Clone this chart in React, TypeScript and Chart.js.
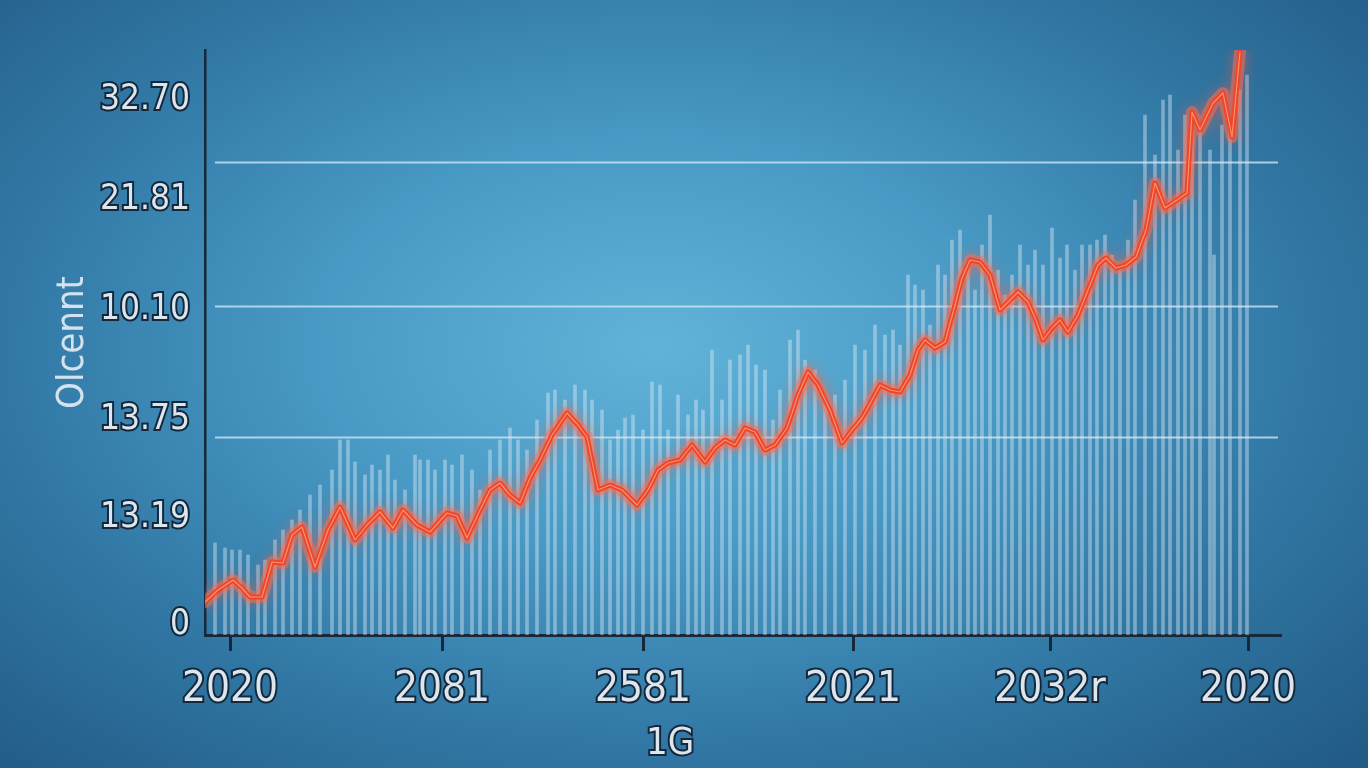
import React, { useEffect, useRef } from "react";
import { Chart, registerables } from "chart.js";

Chart.register(...registerables);

// red trend line
const lineX = [0, 2.6, 5.6, 7.4, 9, 11.4, 13.4, 15.6, 17.4, 19.4, 22, 24.6, 27, 30, 32.4, 35, 37.6, 39.6, 42.4, 45, 48.4, 50.4, 52.4, 55, 57, 59, 61, 63, 65, 67, 69.4, 72.4, 74.6, 76.4, 78.6, 81, 83.4, 86.4, 88.6, 90.6, 92.6, 95, 97.4, 100, 102, 104, 106, 108, 110, 112, 114, 116.4, 118.6, 120.6, 122.6, 125, 127.4, 129.4, 131.4, 133.4, 135, 137, 139, 141, 142.6, 144, 146, 148, 150, 151.4, 153, 155, 157, 159, 161, 162.6, 164.6, 166.2, 167.6, 169.4, 171, 172.6, 174.6, 176.6, 178.6, 180.2, 182.2, 184.2, 186.2, 188.2, 190, 192, 194.4, 196.4, 197.4, 199, 201.6, 203.6, 205.4, 207];
const lineY = [3.3, 4.5, 5.5, 4.7, 3.8, 3.8, 7.3, 7.2, 10.0, 10.8, 6.8, 10.5, 12.8, 9.5, 11.0, 12.3, 10.7, 12.5, 11.0, 10.3, 12.2, 11.9, 9.7, 12.5, 14.5, 15.2, 14.0, 13.2, 15.7, 17.5, 20.0, 22.2, 21.0, 19.8, 14.5, 15.0, 14.5, 13.0, 14.5, 16.5, 17.2, 17.5, 19.0, 17.3, 18.7, 19.5, 19.0, 20.7, 20.3, 18.5, 19.0, 20.7, 24.0, 26.3, 25.0, 22.5, 19.2, 20.5, 21.7, 23.5, 25.0, 24.5, 24.3, 26.0, 28.5, 29.5, 28.7, 29.3, 33.0, 35.7, 37.5, 37.3, 36.0, 32.5, 33.5, 34.3, 33.3, 31.5, 29.5, 30.7, 31.5, 30.3, 32.0, 34.5, 37.0, 37.7, 36.7, 37.0, 37.8, 40.5, 45.2, 42.7, 43.5, 44.2, 52.3, 50.5, 53.2, 54.2, 49.8, 58.3];

// pale bars
const barX = [2, 4, 5.4, 7, 8.6, 10.6, 12, 14, 15.6, 17.4, 19, 21, 23, 25.4, 27, 28.6, 30, 32, 33.4, 35, 36.6, 38, 40, 42, 43, 44.6, 46, 48, 49.4, 51.4, 53.4, 55, 57, 59, 61, 62.6, 64.4, 66.4, 68.6, 70, 72, 74, 76, 77.4, 79.4, 81, 82.6, 84, 85.6, 87.6, 89.4, 91, 92.6, 94.6, 96.6, 98.2, 99.6, 101.4, 103.4, 105, 107, 108.6, 110.2, 112, 113.6, 115, 117, 118.6, 120, 122, 124, 126, 128, 130, 132, 134, 136, 137.6, 139, 140.6, 142, 143.6, 145, 146.6, 148, 149.4, 151, 152.6, 154, 155.4, 157, 158.6, 160, 161.4, 163, 164.6, 166, 167.6, 169.4, 171, 172.4, 174, 175.4, 177, 178.4, 180, 181.4, 183, 184.6, 186, 188, 190, 191.6, 193, 194.6, 196, 197.4, 199, 201, 201.8, 203.4, 205, 207, 208.4];
const barY = [9.2, 8.7, 8.5, 8.5, 8.0, 7.0, 7.5, 9.5, 10.5, 11.5, 12.5, 14.0, 15.0, 16.5, 19.5, 19.5, 17.3, 16.0, 17.0, 16.5, 18.0, 15.5, 14.5, 18.0, 17.5, 17.5, 16.5, 17.5, 17.0, 18.0, 16.5, 14.5, 18.5, 19.5, 20.7, 19.5, 18.5, 21.5, 24.2, 24.5, 23.5, 25.0, 24.5, 23.5, 22.5, 19.5, 20.5, 21.7, 22.0, 20.5, 25.3, 25.0, 20.5, 24.0, 22.0, 23.5, 22.5, 28.5, 23.5, 27.5, 28.0, 29.0, 27.0, 26.5, 21.5, 24.5, 29.5, 30.5, 27.5, 26.5, 23.5, 24.0, 25.5, 29.0, 28.5, 31.0, 30.0, 30.5, 29.0, 36.0, 35.0, 34.5, 31.0, 37.0, 36.0, 39.5, 40.5, 37.0, 34.5, 39.0, 42.0, 36.5, 34.0, 36.0, 39.0, 37.0, 38.5, 37.0, 40.7, 37.7, 39.0, 36.5, 39.0, 39.0, 39.5, 40.0, 38.0, 36.5, 39.5, 43.5, 52.0, 48.0, 53.5, 54.0, 48.5, 52.0, 50.5, 51.0, 48.5, 38.0, 51.0, 51.0, 54.5, 56.0];

const yTickValues = [1.0, 11.7, 21.5, 32.5, 43.5, 53.5];
const yTickLabels = ["0", "13.19", "13.75", "10.10", "21.81", "32.70"];
const gridValues = [19.8, 32.9, 47.3];
const xTickValues = [5, 47.4, 87.6, 129.6, 169, 208.6];
const xTickLabels = ["2020", "2081", "2581", "2021", "2032r", "2020"];
const yTitle = "Olcennt";
const xTitle = "1G";
const xTitlePos = 93;

const FONT = '"DejaVu Sans Condensed", "Liberation Sans Narrow", "Roboto", sans-serif';
const TEXT = "#dbe6ef";
const STROKE = "#15273a";

const decorPlugin = {
  id: "decor",
  beforeDatasetsDraw(chart: any) {
    const { ctx, chartArea } = chart;
    const y = chart.scales.y;
    ctx.save();
    ctx.strokeStyle = "rgba(205,228,242,0.8)";
    ctx.lineWidth = 2;
    gridValues.forEach((v) => {
      const py = Math.round(y.getPixelForValue(v)) + 0.5;
      ctx.beginPath();
      ctx.moveTo(chartArea.left + 10, py);
      ctx.lineTo(chartArea.right - 2, py);
      ctx.stroke();
    });
    ctx.restore();
  },
  beforeDatasetDraw(chart: any, args: any) {
    if (args.index === 1) {
      const ctx = chart.ctx;
      ctx.save();
      ctx.shadowColor = "rgba(255,90,60,0.9)";
      ctx.shadowBlur = 14;
    }
  },
  afterDatasetDraw(chart: any, args: any) {
    if (args.index === 1) chart.ctx.restore();
  },
  afterDraw(chart: any) {
    const { ctx } = chart;
    const px = chart.scales.x.getPixelForValue(xTitlePos);
    ctx.save();
    ctx.font = `38px ${FONT}`;
    ctx.textAlign = "center";
    ctx.textBaseline = "middle";
    ctx.lineWidth = 4;
    ctx.strokeStyle = STROKE;
    ctx.fillStyle = TEXT;
    ctx.strokeText(xTitle, px, 744);
    ctx.fillText(xTitle, px, 744);
    ctx.restore();
  },
};

export default function App() {
  const ref = useRef<HTMLCanvasElement>(null);

  useEffect(() => {
    if (!ref.current) return;
    const chart = new Chart(ref.current, {
      type: "bar",
      data: {
        datasets: [
          {
            type: "bar",
            data: barX.map((x, i) => ({ x, y: barY[i] })),
            backgroundColor: "rgba(226,238,248,0.42)",
            borderWidth: 0,
            barThickness: 3,
            order: 4,
          } as any,
          {
            type: "line",
            data: lineX.map((x, i) => ({ x, y: lineY[i] })),
            borderColor: "rgba(255,110,80,0.5)",
            borderWidth: 12,
            pointRadius: 0,
            tension: 0,
            borderJoinStyle: "round",
            borderCapStyle: "round",
            order: 3,
          },
          {
            type: "line",
            data: lineX.map((x, i) => ({ x, y: lineY[i] })),
            borderColor: "#f0442c",
            borderWidth: 5,
            pointRadius: 0,
            tension: 0,
            borderJoinStyle: "round",
            borderCapStyle: "round",
            order: 2,
          },
          {
            type: "line",
            data: lineX.map((x, i) => ({ x, y: lineY[i] })),
            borderColor: "rgba(255,175,120,0.75)",
            borderWidth: 1.2,
            pointRadius: 0,
            tension: 0,
            borderJoinStyle: "round",
            order: 1,
          },
        ],
      },
      options: {
        animation: false,
        responsive: false,
        maintainAspectRatio: false,
        layout: { padding: { left: 46, right: 88, top: 50, bottom: 0 } },
        plugins: { legend: { display: false }, tooltip: { enabled: false } },
        scales: {
          x: {
            type: "linear",
            min: 0,
            max: 215,
            offset: false,
            afterBuildTicks: (s: any) => {
              s.ticks = xTickValues.map((v) => ({ value: v }));
            },
            afterFit: (s: any) => {
              s.height = 133;
            },
            ticks: {
              autoSkip: false,
              maxRotation: 0,
              padding: 14,
              color: TEXT,
              font: { family: FONT, size: 42 },
              textStrokeColor: STROKE,
              textStrokeWidth: 4,
              callback: (_v: any, i: number) => xTickLabels[i],
            },
            grid: {
              display: true,
              offset: false,
              drawOnChartArea: false,
              drawTicks: true,
              tickLength: 16,
              color: "#17283a",
              lineWidth: 3,
            },
            border: { display: true, color: "#17283a", width: 3 },
          },
          y: {
            type: "linear",
            min: 0,
            max: 58.5,
            afterBuildTicks: (s: any) => {
              s.ticks = yTickValues.map((v) => ({ value: v }));
            },
            afterFit: (s: any) => {
              s.width = 159;
            },
            ticks: {
              autoSkip: false,
              padding: 15,
              color: TEXT,
              font: { family: FONT, size: 35 },
              textStrokeColor: STROKE,
              textStrokeWidth: 4,
              callback: (_v: any, i: number) => yTickLabels[i],
            },
            grid: { display: true, drawOnChartArea: false, drawTicks: false },
            border: { display: true, color: "#17283a", width: 2.5 },
            title: {
              display: true,
              text: yTitle,
              color: "#d3e2ee",
              font: { family: FONT, size: 38 },
              padding: { top: 4, bottom: 4 },
            },
          },
        },
      },
      plugins: [decorPlugin],
    } as any);
    return () => chart.destroy();
  }, []);

  return (
    <div
      style={{
        position: "fixed",
        left: 0,
        top: 0,
        width: 1368,
        height: 768,
        background:
          "radial-gradient(ellipse 72% 78% at 48% 45%, #62b3d9 0%, #4a9cc7 32%, #3279a6 65%, #215a84 100%)",
      }}
    >
      <canvas ref={ref} width={1368} height={768} style={{ display: "block" }} />
    </div>
  );
}
